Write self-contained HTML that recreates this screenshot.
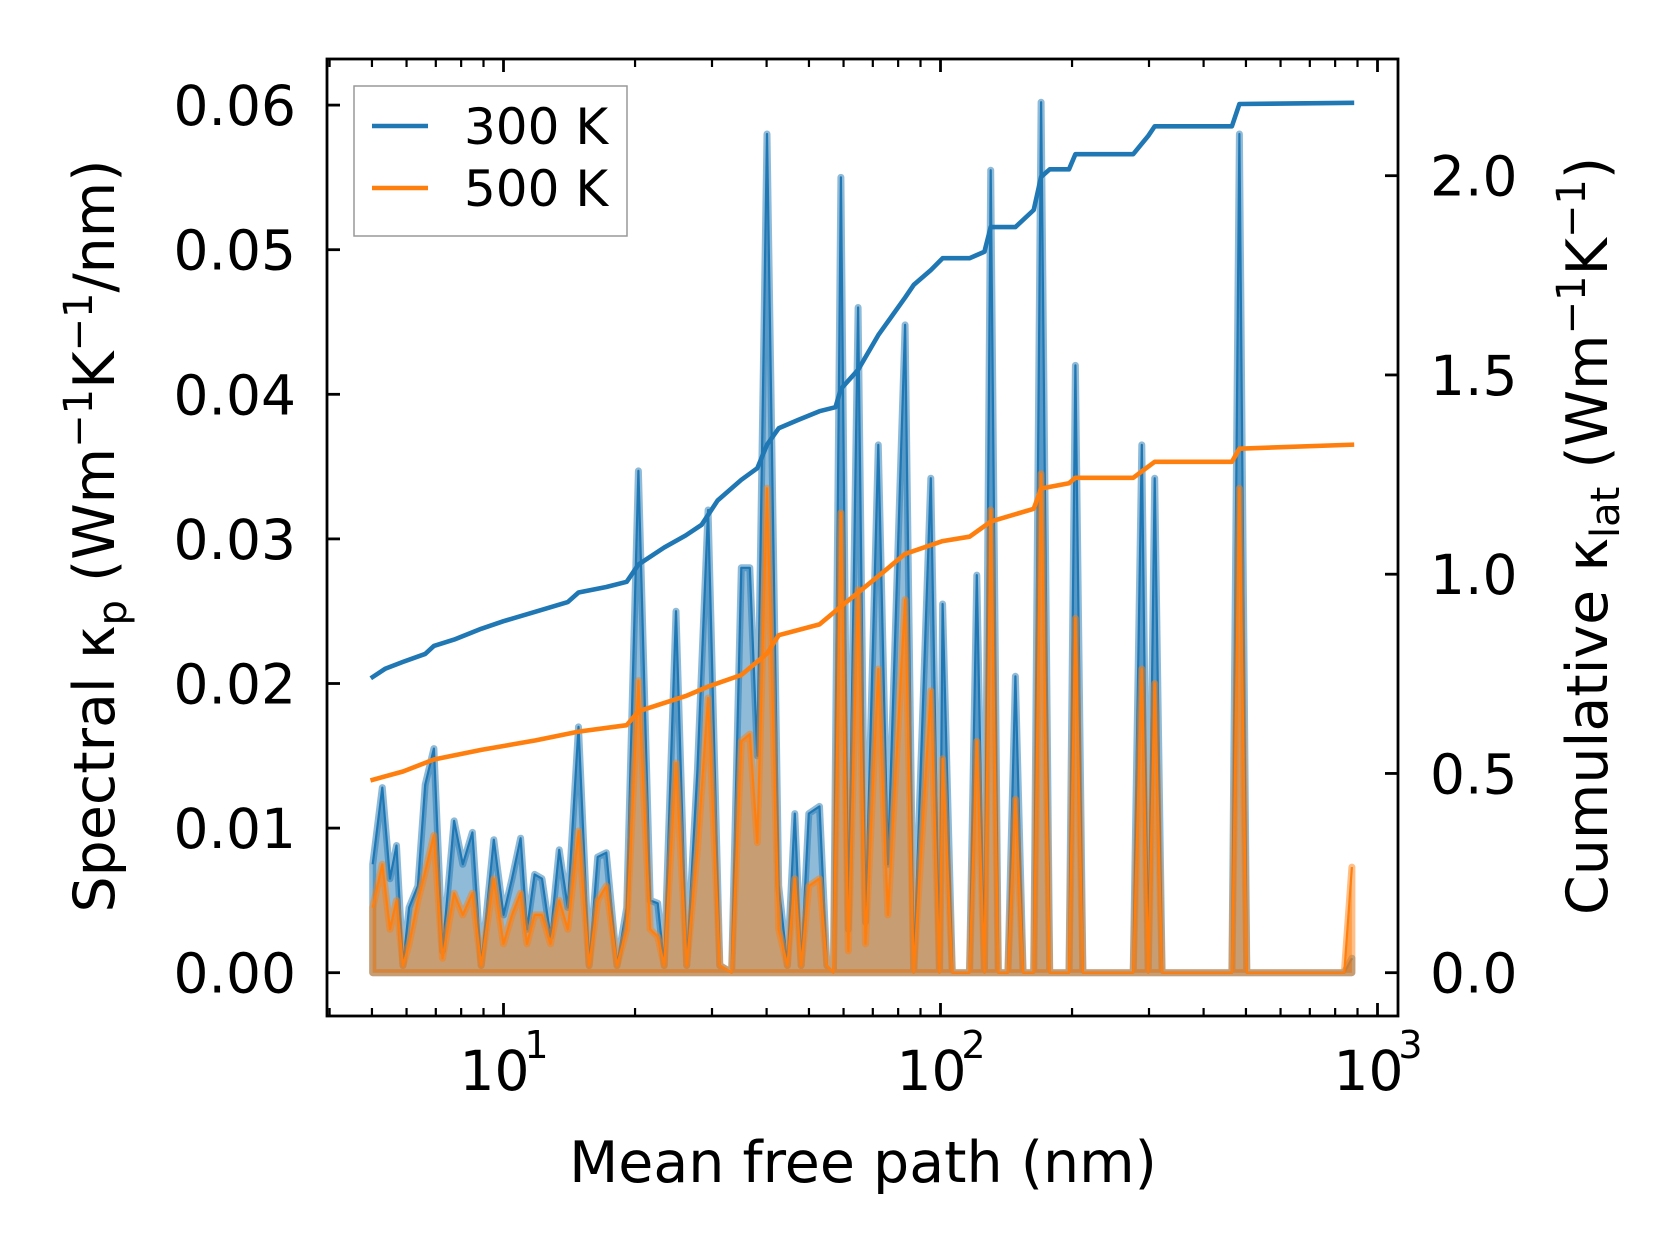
<!DOCTYPE html>
<html><head><meta charset="utf-8"><style>
html,body{margin:0;padding:0;background:#fff;}
svg{display:block;font-family:"DejaVu Sans","Liberation Sans",sans-serif;}
</style></head><body>
<svg id="chart" width="1679" height="1254" viewBox="0 0 1679 1254" xmlns="http://www.w3.org/2000/svg">
<rect width="1679" height="1254" fill="#fff"/>
<g id="plot"></g>
<g id="axes"></g>
</svg>
<script>
// Spectral data (mean free path in nm)
const mfp = [5.02,5.28,5.50,5.69,5.89,6.08,6.37,6.62,6.93,7.25,7.71,8.07,8.49,8.89,9.50,10,10.46,10.94,11.32,11.78,12.25,12.81,13.41,14.03,14.85,15.70,16.43,17.19,18.19,19.14,20.36,21.66,22.53,23.32,24.81,26.25,27.78,29.39,31.26,33.26,35.00,36.61,38.08,40.08,42.64,44.63,46.41,48.00,49.97,52.86,54.97,56.88,59.17,61.53,64.77,67.36,72.05,75.78,82.98,86.85,95.04,99.5,101.1,106.4,116.5,121.1,126.0,130.3,135.6,142.6,148.4,154.5,163.4,169.9,177.8,196.8,203.6,211.8,276.1,288.8,298.7,309.1,321.5,464.3,483.1,502.3,839.7,873.6];
const spec300 = [0.0075,0.0128,0.0065,0.0088,0.0005,0.0045,0.006,0.013,0.0155,0.0015,0.0105,0.0075,0.0097,0.0005,0.0092,0.004,0.0065,0.0093,0.003,0.0068,0.0065,0.0025,0.0085,0.0045,0.017,0.0005,0.008,0.0083,0.0005,0.0045,0.0347,0.005,0.0048,0.0005,0.025,0.0005,0.014,0.032,0.0005,0,0.028,0.028,0.015,0.058,0.006,0.0005,0.011,0.0005,0.011,0.0115,0.0005,0,0.055,0.003,0.046,0.0035,0.0365,0.0075,0.0448,0,0.0342,0,0.0255,0,0,0.0275,0,0.0555,0,0,0.0205,0,0,0.0602,0,0,0.042,0,0,0.0365,0,0.0342,0,0,0.058,0,0,0.001];
const spec500 = [0.0045,0.0075,0.003,0.005,0.0005,0.002,0.005,0.007,0.0095,0.001,0.0055,0.004,0.0055,0.0005,0.0065,0.002,0.004,0.0055,0.002,0.004,0.004,0.002,0.005,0.003,0.0098,0.0005,0.005,0.006,0.0005,0.003,0.0202,0.003,0.0025,0.0005,0.0145,0.0005,0.0085,0.019,0.0005,0,0.016,0.0165,0.009,0.0335,0.003,0.0005,0.0065,0.0005,0.006,0.0065,0.0005,0,0.0318,0.0015,0.0265,0.002,0.021,0.004,0.0258,0,0.0195,0,0.0148,0,0,0.016,0,0.032,0,0,0.012,0,0,0.0345,0,0,0.0245,0,0,0.021,0,0.02,0,0,0.0335,0,0,0.0073];
// Cumulative data
const cumMfp300 = [5.02,5.37,5.89,6.62,6.93,7.71,8.89,10,11.84,14.03,14.85,17.19,19.14,20.36,23.32,26.1,28.4,30.9,35.0,38.08,40.08,42.64,47.2,52.86,57.5,59.17,64.77,72.05,82.98,86.85,95.04,101.1,116.5,126.0,130.3,148.4,163.4,169.9,177.8,196.8,203.6,276.1,298.7,309.1,464.3,483.1,873.6];
const cum300 = [0.742,0.763,0.78,0.80,0.82,0.836,0.863,0.882,0.906,0.93,0.954,0.968,0.981,1.024,1.067,1.097,1.124,1.185,1.237,1.266,1.325,1.366,1.387,1.409,1.419,1.465,1.513,1.6,1.694,1.726,1.763,1.793,1.793,1.809,1.871,1.871,1.914,1.997,2.016,2.016,2.054,2.054,2.1,2.124,2.124,2.18,2.183];
const cumMfp500 = [5.02,5.89,6.93,8.89,11.84,14.85,19.14,20.36,26.1,29.39,35.0,40.08,42.64,52.86,59.17,72.05,82.98,101.1,116.5,130.3,163.4,169.9,196.8,203.6,276.1,309.1,464.3,483.1,873.6];
const cum500 = [0.484,0.505,0.535,0.559,0.583,0.605,0.621,0.656,0.694,0.718,0.747,0.801,0.847,0.874,0.919,0.995,1.051,1.083,1.094,1.132,1.164,1.215,1.228,1.242,1.242,1.282,1.282,1.315,1.325];
const leftTicks = [0,0.01,0.02,0.03,0.04,0.05,0.06];
const leftTickLabels = ["0.00","0.01","0.02","0.03","0.04","0.05","0.06"];
const rightTicks = [0,0.5,1.0,1.5,2.0];
const rightTickLabels = ["0.0","0.5","1.0","1.5","2.0"];
const xDecades = [1,2,3];

const NS="http://www.w3.org/2000/svg";
const L=327,R=1398,T=59,B=1016;
const X=m=>503.5+(Math.log10(m)-1)*437;
const YL=v=>972.7-v*14460;
const YR=v=>972.7-v*398.5;
const plot=document.getElementById('plot'), axes=document.getElementById('axes');
function mk(tag,attrs,parent){const e=document.createElementNS(NS,tag);for(const k in attrs)e.setAttribute(k,attrs[k]);parent.appendChild(e);return e;}

function area(vals,color,name){
  let d=`M${X(mfp[0])},${YL(0)}`;
  mfp.forEach((m,i)=>d+=`L${X(m).toFixed(1)},${YL(vals[i]).toFixed(1)}`);
  d+=`L${X(mfp[mfp.length-1])},${YL(0)}Z`;
  const p=mk('path',{d:d,fill:color,'fill-opacity':0.5,stroke:color,'stroke-opacity':0.5,'stroke-width':7,'stroke-linejoin':'round'},plot);
  
  
  let d2='';
  mfp.forEach((m,i)=>d2+=(i?'L':'M')+X(m).toFixed(1)+','+YL(vals[i]).toFixed(1));
  const l=mk('path',{d:d2,fill:'none',stroke:color,'stroke-width':2.2,'stroke-linejoin':'round'},plot);
  
  
}
area(spec300,'#1f77b4','spectral-300k');
area(spec500,'#ff7f0e','spectral-500k');
function cum(xs,vs,color,name){
  let d='';xs.forEach((m,i)=>d+=(i?'L':'M')+X(m).toFixed(1)+','+YR(vs[i]).toFixed(1));
  const l=mk('path',{d:d,fill:'none',stroke:color,'stroke-width':4.6,'stroke-linejoin':'round','stroke-linecap':'square'},plot);
  
  
}
cum(cumMfp300,cum300,'#1f77b4','cumulative-300k');
cum(cumMfp500,cum500,'#ff7f0e','cumulative-500k');

const fr=mk('rect',{x:L,y:T,width:R-L,height:B-T,fill:'none',stroke:'#000','stroke-width':2.8},axes);


leftTicks.forEach((v,i)=>{
  const y=YL(v);
  const t=mk('line',{x1:L,x2:L+13,y1:y,y2:y,stroke:'#000','stroke-width':2.8},axes);
  
  
  const tx=mk('text',{x:296,y:y+20,'text-anchor':'end','font-size':55},axes);
  tx.textContent=leftTickLabels[i];
  
  
});
rightTicks.forEach((v,i)=>{
  const y=YR(v);
  const t=mk('line',{x1:R-13,x2:R,y1:y,y2:y,stroke:'#000','stroke-width':2.8},axes);
  
  
  const tx=mk('text',{x:1430,y:y+20,'text-anchor':'start','font-size':55},axes);
  tx.textContent=rightTickLabels[i];
  
  
});
for(let e=0;e<=3;e++){
  for(let k=1;k<10;k++){
    const m=k*Math.pow(10,e);const x=X(m);
    if(x<L+1||x>R-1)continue;
    const len=k===1?13:8;
    [[B,B-len],[T,T+len]].forEach(([a,b])=>{
      const t=mk('line',{x1:x,x2:x,y1:a,y2:b,stroke:'#000','stroke-width':k===1?2.8:2.2},axes);
      
      
    });
  }
}
xDecades.forEach(p=>{
  const x=X(Math.pow(10,p));
  const tx=mk('text',{x:x-9,y:1090,'text-anchor':'middle','font-size':55},axes);
  tx.textContent='10';
  
  
  const s=mk('text',{x:x+33,y:1058,'text-anchor':'middle','font-size':38},axes);
  s.textContent=String(p);
  
  
});
</script>
<svg style="position:absolute;left:0;top:0" width="1679" height="1254" viewBox="0 0 1679 1254" xmlns="http://www.w3.org/2000/svg" font-family="DejaVu Sans, Liberation Sans, sans-serif">
<text x="863" y="1182" text-anchor="middle" font-size="57">Mean free path (nm)</text>
<text transform="translate(114,536) rotate(-90)" text-anchor="middle" font-size="57">Spectral κ<tspan font-size="40" dy="12">p</tspan><tspan dy="-12"> (Wm</tspan><tspan font-size="40" dy="-22">−1</tspan><tspan dy="22">K</tspan><tspan font-size="40" dy="-22">−1</tspan><tspan dy="22">/nm)</tspan></text>
<text transform="translate(1607,536) rotate(-90)" text-anchor="middle" font-size="57">Cumulative κ<tspan font-size="40" dy="12">lat</tspan><tspan dy="-12"> (Wm</tspan><tspan font-size="40" dy="-22">−1</tspan><tspan dy="22">K</tspan><tspan font-size="40" dy="-22">−1</tspan><tspan dy="22">)</tspan></text>
<g>
<rect x="354" y="86" width="273" height="150" fill="#fff" fill-opacity="0.8" stroke="#999" stroke-width="1.5"/>
<line x1="372" x2="428" y1="126" y2="126" stroke="#1f77b4" stroke-width="4.6"/>
<text x="464" y="144" font-size="50">300 K</text>
<line x1="372" x2="428" y1="188" y2="188" stroke="#ff7f0e" stroke-width="4.6"/>
<text x="464" y="206" font-size="50">500 K</text>
</g>
</svg>
</body></html>
